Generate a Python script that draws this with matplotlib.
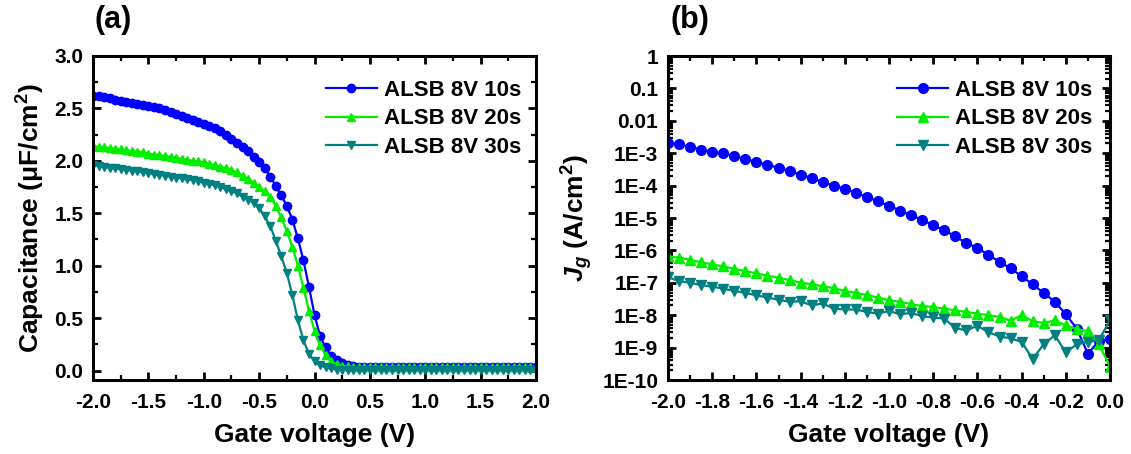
import numpy as np
import matplotlib
matplotlib.use("Agg")
import matplotlib.pyplot as plt
from matplotlib.ticker import MultipleLocator, FixedLocator, FixedFormatter, LogLocator, NullFormatter, FormatStrFormatter

plt.rcParams['font.family'] = ['Liberation Sans', 'DejaVu Sans']
plt.rcParams['font.weight'] = 'bold'
plt.rcParams['axes.unicode_minus'] = False
plt.rcParams['mathtext.fontset'] = 'custom'
plt.rcParams['mathtext.rm'] = 'Liberation Sans:bold'
plt.rcParams['mathtext.it'] = 'Liberation Sans:bold:italic'
plt.rcParams['mathtext.bf'] = 'Liberation Sans:bold'

labels = ["ALSB 8V 10s", "ALSB 8V 20s", "ALSB 8V 30s"]
colors = ["#0000FF", "#00EE00", "#008080"]
markers = ["o", "^", "v"]

# ---- panel (a): C-V, gate voltage -2.0 .. 2.0 step 0.05
va = [round(-2.0 + 0.05 * i, 2) for i in range(81)]
cap_10s = [2.62, 2.615, 2.605, 2.595, 2.585, 2.575, 2.565, 2.555, 2.545, 2.535,
           2.525, 2.51, 2.50, 2.485, 2.47, 2.45, 2.43, 2.41, 2.39, 2.37,
           2.35, 2.33, 2.31, 2.28, 2.25, 2.21, 2.17, 2.13, 2.09, 2.04,
           1.99, 1.93, 1.85, 1.76, 1.67, 1.57, 1.44, 1.26, 1.05, 0.80,
           0.53, 0.33, 0.22, 0.14, 0.10, 0.07, 0.05, 0.04, 0.035, 0.03,
           0.03, 0.03, 0.03, 0.03, 0.03, 0.03, 0.03, 0.03, 0.03, 0.03,
           0.03, 0.03, 0.03, 0.03, 0.03, 0.03, 0.03, 0.03, 0.03, 0.03,
           0.03, 0.03, 0.03, 0.03, 0.03, 0.03, 0.03, 0.03, 0.03, 0.03, 0.03]
cap_20s = [2.14, 2.135, 2.13, 2.12, 2.115, 2.11, 2.10, 2.095, 2.085, 2.08,
           2.07, 2.06, 2.055, 2.045, 2.04, 2.03, 2.02, 2.01, 2.00, 1.995,
           1.985, 1.97, 1.96, 1.945, 1.93, 1.91, 1.89, 1.86, 1.83, 1.79,
           1.75, 1.71, 1.66, 1.57, 1.46, 1.33, 1.18, 1.00, 0.79, 0.57,
           0.38, 0.24, 0.15, 0.09, 0.06, 0.045, 0.04, 0.035, 0.035, 0.035,
           0.035, 0.035, 0.035, 0.035, 0.035, 0.035, 0.035, 0.035, 0.035, 0.035,
           0.035, 0.035, 0.035, 0.035, 0.035, 0.035, 0.035, 0.035, 0.035, 0.035,
           0.035, 0.035, 0.035, 0.035, 0.035, 0.035, 0.035, 0.035, 0.035, 0.035, 0.035]
cap_30s = [1.96, 1.95, 1.94, 1.935, 1.93, 1.92, 1.915, 1.905, 1.90, 1.89,
           1.885, 1.875, 1.865, 1.86, 1.85, 1.84, 1.835, 1.825, 1.815, 1.805,
           1.79, 1.78, 1.765, 1.75, 1.73, 1.71, 1.69, 1.66, 1.63, 1.60,
           1.55, 1.47, 1.38, 1.24, 1.09, 0.93, 0.72, 0.48, 0.29, 0.16,
           0.09, 0.05, 0.03, 0.02, 0.01, 0.01, 0.01, 0.01, 0.01, 0.01,
           0.01, 0.01, 0.01, 0.01, 0.01, 0.01, 0.01, 0.01, 0.01, 0.01,
           0.01, 0.01, 0.01, 0.01, 0.01, 0.01, 0.01, 0.01, 0.01, 0.01,
           0.01, 0.01, 0.01, 0.01, 0.01, 0.01, 0.01, 0.01, 0.01, 0.01, 0.01]

# ---- panel (b): J-V, gate voltage -2.0 .. 0.0 step 0.05
vb = [round(-2.0 + 0.05 * i, 2) for i in range(41)]
jg_10s = [2.1e-3, 1.9e-3, 1.55e-3, 1.3e-3, 1.1e-3, 9.8e-4, 8.3e-4, 6.5e-4, 5.4e-4, 4.4e-4,
          3.5e-4, 2.8e-4, 2.2e-4, 1.7e-4, 1.3e-4, 1.0e-4, 7.9e-5, 6.0e-5, 4.5e-5, 3.3e-5,
          2.4e-5, 1.7e-5, 1.2e-5, 8.9e-6, 5.9e-6, 4.2e-6, 2.7e-6, 1.7e-6, 1.2e-6, 7.2e-7,
          4.5e-7, 2.8e-7, 1.6e-7, 8.9e-8, 4.9e-8, 2.6e-8, 1.07e-8, 3.8e-9, 6.5e-10, 1.6e-9,
          1.9e-9]
jg_20s = [6.5e-7, 6.0e-7, 5.1e-7, 4.3e-7, 3.7e-7, 3.2e-7, 2.7e-7, 2.3e-7, 1.95e-7, 1.66e-7,
          1.45e-7, 1.2e-7, 1.02e-7, 8.9e-8, 7.9e-8, 6.8e-8, 5.6e-8, 4.9e-8, 4.2e-8, 3.5e-8,
          2.9e-8, 2.6e-8, 2.2e-8, 1.9e-8, 1.8e-8, 1.6e-8, 1.4e-8, 1.26e-8, 1.12e-8, 1.0e-8,
          8.9e-9, 6.8e-9, 1.0e-8, 6.5e-9, 5.8e-9, 6.9e-9, 4.9e-9, 3.7e-9, 3.2e-9, 1.26e-9,
          2.6e-10]
jg_30s = [1.5e-7, 1.12e-7, 1.0e-7, 8.5e-8, 7.6e-8, 6.6e-8, 5.6e-8, 4.9e-8, 4.1e-8, 3.5e-8,
          3.0e-8, 2.6e-8, 2.7e-8, 2.0e-8, 2.3e-8, 1.6e-8, 1.5e-8, 1.5e-8, 1.26e-8, 1.12e-8,
          1.35e-8, 1.07e-8, 1.17e-8, 9.3e-9, 8.5e-9, 7.9e-9, 4.0e-9, 3.4e-9, 4.7e-9, 3.0e-9,
          2.2e-9, 1.95e-9, 1.5e-9, 4.5e-10, 1.26e-9, 2.4e-9, 7.2e-10, 1.26e-9, 1.5e-9, 1.7e-9,
          7.1e-9]

ytick_vals_b = [1e-10, 1e-9, 1e-8, 1e-7, 1e-6, 1e-5, 1e-4, 1e-3, 1e-2, 1e-1, 1]
ytick_labels_b = ["1E-10", "1E-9", "1E-8", "1E-7", "1E-6", "1E-5", "1E-4", "1E-3", "0.01", "0.1", "1"]

W, H = 1131, 454
fig = plt.figure(figsize=(W / 100, H / 100), dpi=100)

def px_axes(l, t, r, b):
    return fig.add_axes([l / W, 1 - b / H, (r - l) / W, (b - t) / H])

axa = px_axes(93, 56, 536, 380)
axb = px_axes(668, 56, 1110, 380)

def style(ax):
    for s in ax.spines.values():
        s.set_linewidth(2.2)
    ax.tick_params(which='both', direction='in', top=True, right=True, width=2,
                   labelsize=15)
    ax.tick_params(axis='x', which='both', pad=9)
    ax.tick_params(axis='y', which='both', pad=7)
    ax.tick_params(which='major', length=6)
    ax.tick_params(which='minor', length=3.5, width=1.6)
    for lab in ax.get_xticklabels() + ax.get_yticklabels():
        lab.set_fontweight('bold')

leg_kw = dict(loc='upper right', frameon=False, handlelength=2.3, handletextpad=0.31,
              labelspacing=0.35, borderpad=0, borderaxespad=0,
              prop={'weight': 'bold', 'size': 16})

# panel (a)
for y, c, m, lab in zip([cap_10s, cap_20s, cap_30s], colors, markers, labels):
    axa.plot(va, y, color=c, marker=m, markersize=6, linewidth=1.6, label=lab)
axa.set_xlim(-2.0, 2.0)
axa.set_ylim(-0.09, 3.0)
axa.xaxis.set_major_locator(MultipleLocator(0.5))
axa.xaxis.set_minor_locator(MultipleLocator(0.25))
axa.yaxis.set_major_locator(MultipleLocator(0.5))
axa.yaxis.set_minor_locator(MultipleLocator(0.25))
axa.xaxis.set_major_formatter(FormatStrFormatter('%.1f'))
axa.yaxis.set_major_formatter(FormatStrFormatter('%.1f'))
style(axa)
axa.set_xlabel("Gate voltage (V)", fontsize=19, fontweight='bold', labelpad=8)
axa.set_ylabel("Capacitance (\u03bcF/cm$^{2}$)", fontsize=19, fontweight='bold', labelpad=5)
axa.legend(bbox_to_anchor=(0.966, 0.927), **leg_kw)
fig.text(95 / W, 1 - 20 / H, "(a)", fontsize=22, fontweight='bold', ha='left', va='center')

# panel (b)
for y, c, m, lab in zip([jg_10s, jg_20s, jg_30s], colors, markers, labels):
    axb.plot(vb, y, color=c, marker=m, markersize=7, linewidth=1.6, label=lab)
axb.set_yscale('log')
axb.set_xlim(-2.0, 0.0)
axb.set_ylim(1e-10, 1)
axb.xaxis.set_major_locator(MultipleLocator(0.2))
axb.xaxis.set_minor_locator(MultipleLocator(0.1))
axb.xaxis.set_major_formatter(FormatStrFormatter('%.1f'))
axb.yaxis.set_major_locator(FixedLocator(ytick_vals_b))
axb.yaxis.set_major_formatter(FixedFormatter(ytick_labels_b))
axb.yaxis.set_minor_locator(LogLocator(base=10, subs=np.arange(2, 10), numticks=20))
axb.yaxis.set_minor_formatter(NullFormatter())
style(axb)
axb.set_xlabel("Gate voltage (V)", fontsize=19, fontweight='bold', labelpad=8)
axb.set_ylabel("$J_{g}$ (A/cm$^{2}$)", fontsize=19, fontweight='bold', labelpad=5)
axb.legend(bbox_to_anchor=(0.96, 0.927), **leg_kw)
fig.text(670 / W, 1 - 20 / H, "(b)", fontsize=22, fontweight='bold', ha='left', va='center')

fig.savefig("out.png", dpi=100)
